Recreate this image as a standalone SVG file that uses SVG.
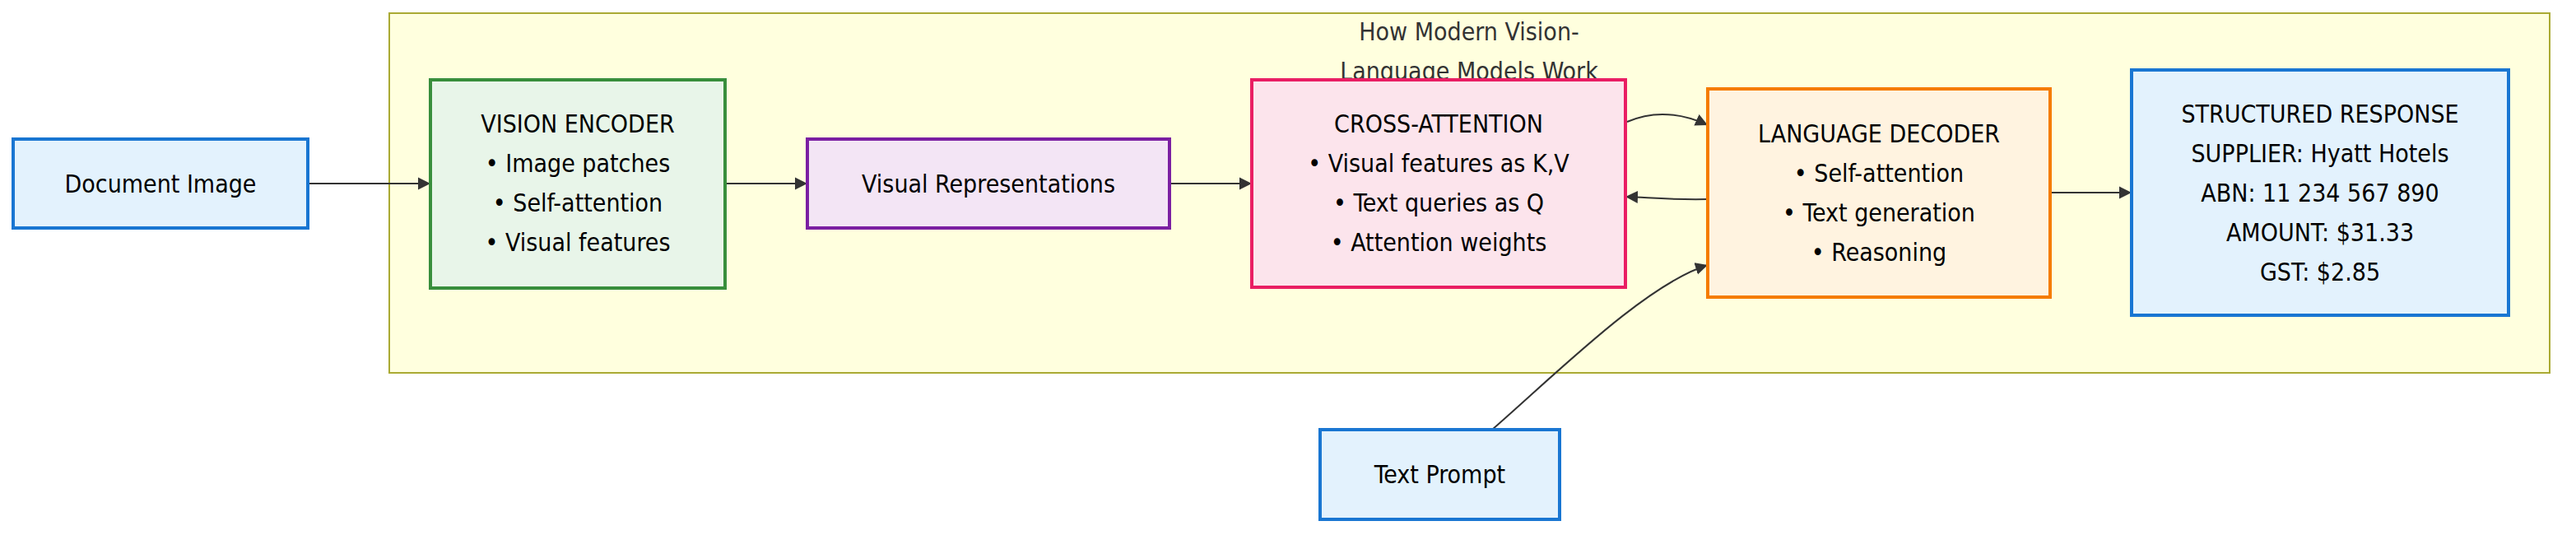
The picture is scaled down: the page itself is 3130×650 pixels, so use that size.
<svg xmlns="http://www.w3.org/2000/svg" width="3130" height="650" viewBox="0 0 3130 650">
<style>
  text { font-family: "DejaVu Sans Condensed", "DejaVu Sans", sans-serif; font-stretch: condensed; font-size: 30px; fill: #000; text-anchor: middle; }
  .title { fill: #333; }
  .node rect { stroke-width: 4; }
  .blue rect { fill: #e3f2fd; stroke: #1976d2; }
  .green rect { fill: #e8f5e9; stroke: #388e3c; }
  .purple rect { fill: #f3e5f5; stroke: #7b1fa2; }
  .pink rect { fill: #fce4ec; stroke: #e91e63; }
  .orange rect { fill: #fff3e0; stroke: #f57c00; }
  .edge { fill: none; stroke: #333; stroke-width: 2; marker-end: url(#arrow); }
</style>
<defs>
  <marker id="arrow" markerUnits="userSpaceOnUse" markerWidth="15" markerHeight="16" viewBox="0 0 10 10" refX="10" refY="5" orient="auto">
    <path d="M0,0 L10,5 L0,10 z" fill="#333"/>
  </marker>
</defs>
<rect width="3130" height="650" fill="#ffffff"/>
<g id="cluster">
  <rect x="473" y="16" width="2625" height="437" fill="#ffffde" stroke="#aaaa33" stroke-width="2"/>
  <text class="title" x="1785" y="49">How Modern Vision-</text>
  <text class="title" x="1785" y="97">Language Models Work</text>
</g>
<g id="connectors">
  <path class="edge" d="M374,223 L523,223"/>
  <path class="edge" d="M881,223 L981,223"/>
  <path class="edge" d="M1421,223 L1521,223"/>
  <path class="edge" d="M1977,148 Q2023,128 2075,152"/>
  <path class="edge" d="M2075,242 C2030,243 2005,240 1975,239"/>
  <path class="edge" d="M2491,234 L2590,234"/>
  <path class="edge" d="M1813,522 C1890,455 2000,345 2075,322"/>
</g>
<g id="document-image" class="node blue">
  <rect x="16" y="169" width="358" height="108"/>
  <text x="195" y="233.5">Document Image</text>
</g>
<g id="vision-encoder" class="node green">
  <rect x="523" y="97" width="358" height="253"/>
  <text x="702" y="161">VISION ENCODER</text>
  <text x="702" y="209">• Image patches</text>
  <text x="702" y="257">• Self-attention</text>
  <text x="702" y="305">• Visual features</text>
</g>
<g id="visual-representations" class="node purple">
  <rect x="981" y="169" width="440" height="108"/>
  <text x="1201" y="233.5">Visual Representations</text>
</g>
<g id="cross-attention" class="node pink">
  <rect x="1521" y="97" width="454" height="252"/>
  <text x="1748" y="161">CROSS-ATTENTION</text>
  <text x="1748" y="209">• Visual features as K,V</text>
  <text x="1748" y="257">• Text queries as Q</text>
  <text x="1748" y="305">• Attention weights</text>
</g>
<g id="language-decoder" class="node orange">
  <rect x="2075" y="108" width="416" height="253"/>
  <text x="2283" y="173">LANGUAGE DECODER</text>
  <text x="2283" y="221">• Self-attention</text>
  <text x="2283" y="269">• Text generation</text>
  <text x="2283" y="317">• Reasoning</text>
</g>
<g id="structured-response" class="node blue">
  <rect x="2590" y="85" width="458" height="298"/>
  <text x="2819" y="148.5">STRUCTURED RESPONSE</text>
  <text x="2819" y="196.5">SUPPLIER: Hyatt Hotels</text>
  <text x="2819" y="244.5">ABN: 11 234 567 890</text>
  <text x="2819" y="292.5">AMOUNT: $31.33</text>
  <text x="2819" y="340.5">GST: $2.85</text>
</g>
<g id="text-prompt" class="node blue">
  <rect x="1604" y="522" width="291" height="109"/>
  <text x="1749.5" y="587">Text Prompt</text>
</g>
</svg>
